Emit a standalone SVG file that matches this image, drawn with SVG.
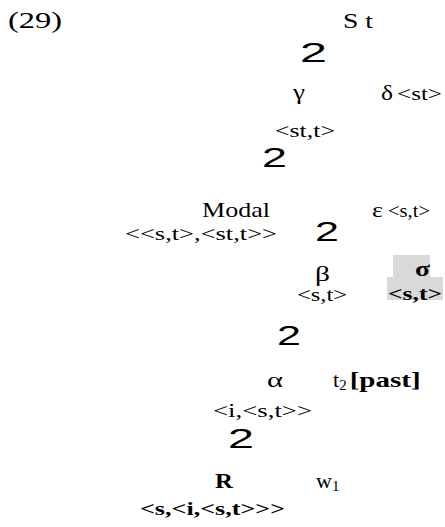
<svg xmlns="http://www.w3.org/2000/svg" width="445" height="527" viewBox="0 0 445 527">
<style>
text{font-family:"Liberation Serif","Times New Roman",serif;fill:#000}
.l{font-size:22px}
.s{font-size:19px}
.sub{font-size:15px}
.b{font-weight:bold}
.br{font-family:"Liberation Sans",Arial,sans-serif;font-size:27px}
.hl{fill:#d9d9d9}
</style>
<rect width="445" height="527" fill="#fff"/>
<text x="8" y="28" style="font-size:23px" textLength="54" lengthAdjust="spacingAndGlyphs">(29)</text>
<g id="connectors">
<text class="br" x="300" y="62" textLength="27" lengthAdjust="spacingAndGlyphs">2</text>
<text class="br" x="262" y="167" textLength="25" lengthAdjust="spacingAndGlyphs">2</text>
<text class="br" x="315" y="241" textLength="24" lengthAdjust="spacingAndGlyphs">2</text>
<text class="br" x="277" y="345" textLength="24" lengthAdjust="spacingAndGlyphs">2</text>
<text class="br" x="228" y="448" textLength="26" lengthAdjust="spacingAndGlyphs">2</text>
</g>
<g id="S"><text class="l" x="343" y="28" textLength="30" lengthAdjust="spacingAndGlyphs">S t</text></g>
<g id="gamma">
<text class="l" x="293" y="99" textLength="12" lengthAdjust="spacingAndGlyphs">γ</text>
<text class="s" x="275" y="137" textLength="60" lengthAdjust="spacingAndGlyphs">&lt;st,t&gt;</text>
</g>
<g id="delta">
<text class="l" x="381" y="100" textLength="12" lengthAdjust="spacingAndGlyphs">δ</text>
<text class="s" x="397" y="100" textLength="45" lengthAdjust="spacingAndGlyphs">&lt;st&gt;</text>
</g>
<g id="modal">
<text class="l" x="202" y="217" textLength="68" lengthAdjust="spacingAndGlyphs">Modal</text>
<text class="s" x="125" y="240" textLength="152" lengthAdjust="spacingAndGlyphs">&lt;&lt;s,t&gt;,&lt;st,t&gt;&gt;</text>
</g>
<g id="epsilon">
<text class="l" x="372" y="217" textLength="11" lengthAdjust="spacingAndGlyphs">ε</text>
<text class="s" x="388" y="217" textLength="42" lengthAdjust="spacingAndGlyphs">&lt;s,t&gt;</text>
</g>
<g id="beta">
<text class="l" x="315" y="281" textLength="15" lengthAdjust="spacingAndGlyphs">β</text>
<text class="s" x="297" y="301" textLength="50" lengthAdjust="spacingAndGlyphs">&lt;s,t&gt;</text>
</g>
<g id="sigma">
<rect class="hl" x="393" y="255" width="37" height="22"/>
<rect class="hl" x="387" y="277" width="56" height="23"/>
<text class="l b" x="415" y="276" textLength="15" lengthAdjust="spacingAndGlyphs">σ</text>
<text class="s b" x="388" y="300" textLength="54" lengthAdjust="spacingAndGlyphs">&lt;s,t&gt;</text>
</g>
<g id="alpha">
<text class="l" x="267" y="387" textLength="16" lengthAdjust="spacingAndGlyphs">α</text>
<text class="s" x="213" y="417" textLength="99" lengthAdjust="spacingAndGlyphs">&lt;i,&lt;s,t&gt;&gt;</text>
</g>
<g id="t2">
<text class="l" x="333" y="387">t<tspan class="sub" dy="3">2</tspan><tspan dy="-3" dx="3" class="b" textLength="71" lengthAdjust="spacingAndGlyphs">[past]</tspan></text>
</g>
<g id="R">
<text class="l b" x="215" y="488" textLength="18" lengthAdjust="spacingAndGlyphs">R</text>
<text class="s b" x="140" y="515" textLength="145" lengthAdjust="spacingAndGlyphs">&lt;s,&lt;i,&lt;s,t&gt;&gt;&gt;</text>
</g>
<g id="w1">
<text class="l" x="316" y="488">w<tspan class="sub" dy="3">1</tspan></text>
</g>
</svg>
